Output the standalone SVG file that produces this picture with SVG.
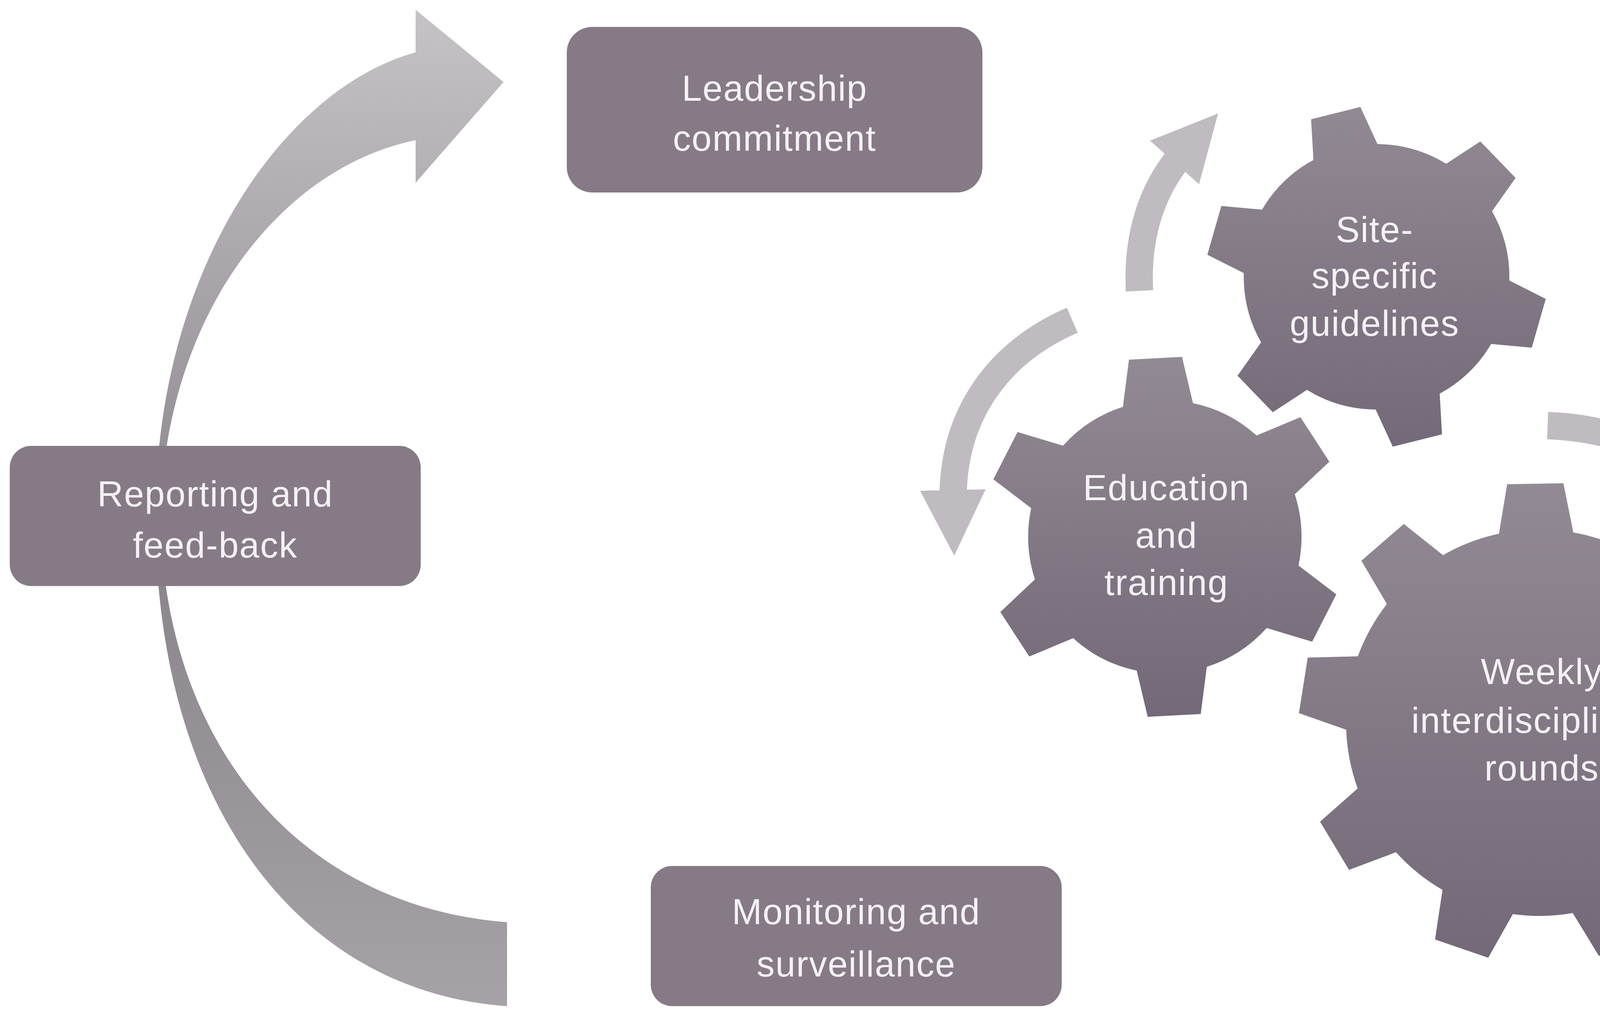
<svg xmlns="http://www.w3.org/2000/svg" xmlns:xlink="http://www.w3.org/1999/xlink" width="4870" height="2592" viewBox="0 0 4870 2592">
<style>
.box{fill:#857a85}
.t{font-family:"Liberation Sans",Arial,sans-serif;font-size:92px;fill:#f4f2f4;text-anchor:middle;letter-spacing:2px}
.sa{fill:none;stroke:#bfbbc0;stroke-width:70}
</style>
<defs>
<linearGradient id="big" x1="0" y1="0" x2="0" y2="1">
<stop offset="0" stop-color="#c6c3c7"/><stop offset="0.55" stop-color="#8a858b"/><stop offset="1" stop-color="#a6a2a7"/>
</linearGradient>
<linearGradient id="gg" x1="0" y1="0" x2="0" y2="1">
<stop offset="0" stop-color="#928a94"/><stop offset="1" stop-color="#736877"/>
</linearGradient>
<marker id="ah" markerWidth="2.4" markerHeight="2.4" refX="0.5" refY="1.2" orient="auto" markerUnits="strokeWidth">
<path d="M0,0 L2.4,1.2 L0,2.4 z" fill="#bfbbc0"/>
</marker>
<polygon id="toothS" points="-90,-300 -65,-432 65,-432 90,-300"/>
<polygon id="toothE" points="-95,-310 -68,-458 68,-458 95,-310"/>
<polygon id="toothW" points="-100,-460 -72,-612 72,-612 100,-460"/>
<clipPath id="cS"><circle cx="0" cy="0" r="340"/>
<use xlink:href="#toothS" transform="rotate(-14)"/><use xlink:href="#toothS" transform="rotate(46)"/><use xlink:href="#toothS" transform="rotate(106)"/><use xlink:href="#toothS" transform="rotate(166)"/><use xlink:href="#toothS" transform="rotate(226)"/><use xlink:href="#toothS" transform="rotate(286)"/>
</clipPath>
<clipPath id="cE"><circle cx="0" cy="0" r="350"/>
<use xlink:href="#toothE" transform="rotate(-3)"/><use xlink:href="#toothE" transform="rotate(57)"/><use xlink:href="#toothE" transform="rotate(117)"/><use xlink:href="#toothE" transform="rotate(177)"/><use xlink:href="#toothE" transform="rotate(237)"/><use xlink:href="#toothE" transform="rotate(297)"/>
</clipPath>
<clipPath id="cW"><circle cx="0" cy="0" r="495"/>
<use xlink:href="#toothW" transform="rotate(-1)"/><use xlink:href="#toothW" transform="rotate(39)"/><use xlink:href="#toothW" transform="rotate(79)"/><use xlink:href="#toothW" transform="rotate(119)"/><use xlink:href="#toothW" transform="rotate(159)"/><use xlink:href="#toothW" transform="rotate(199)"/><use xlink:href="#toothW" transform="rotate(239)"/><use xlink:href="#toothW" transform="rotate(279)"/><use xlink:href="#toothW" transform="rotate(319)"/>
</clipPath>
</defs>
<rect width="4870" height="2592" fill="#ffffff"/>
<g id="connectors">
<path d="M1298,2577 C760,2540 398,2050 398,1320 C400,700 720,230 1064,134 L1064,25 L1289,210 L1064,468 L1064,359 C720,430 425,800 410,1320 C420,1900 760,2320 1298,2362 Z" fill="url(#big)"/>
<path class="sa" d="M2917,745 C2910,600 2950,480 3030,390" marker-end="url(#ah)"/>
<path class="sa" d="M2745,820 C2560,900 2435,1060 2440,1290" marker-end="url(#ah)"/>
<path class="sa" d="M3962,1090 C4500,1110 4950,1700 4630,2280" marker-end="url(#ah)"/>
</g>
<g id="leadership">
<rect class="box" x="1451" y="69" width="1064" height="424" rx="65"/>
<text class="t" x="1983" y="258">Leadership</text><text class="t" x="1983" y="386">commitment</text>
</g>
<g id="reporting">
<rect class="box" x="25" y="1142" width="1052" height="359" rx="55"/>
<text class="t" x="551" y="1297">Reporting and</text><text class="t" x="551" y="1428">feed-back</text>
</g>
<g id="monitoring">
<rect class="box" x="1666" y="2218" width="1052" height="359" rx="55"/>
<text class="t" x="2192" y="2367">Monitoring and</text><text class="t" x="2192" y="2501">surveillance</text>
</g>
<g id="site">
<g transform="translate(3524,709)"><rect x="-460" y="-460" width="920" height="920" fill="url(#gg)" clip-path="url(#cS)"/></g>
<text class="t" x="3519" y="620">Site-</text><text class="t" x="3519" y="738">specific</text><text class="t" x="3519" y="860">guidelines</text>
</g>
<g id="education">
<g transform="translate(2982,1375)"><rect x="-470" y="-470" width="940" height="940" fill="url(#gg)" clip-path="url(#cE)"/></g>
<text class="t" x="2986" y="1281">Education</text><text class="t" x="2986" y="1403">and</text><text class="t" x="2986" y="1524">training</text>
</g>
<g id="weekly">
<g transform="translate(3941,1851)"><rect x="-620" y="-620" width="1240" height="1240" fill="url(#gg)" clip-path="url(#cW)"/></g>
<text class="t" x="3947" y="1752">Weekly</text><text class="t" x="3947" y="1877">interdisciplinary</text><text class="t" x="3947" y="1999">rounds</text>
</g>
</svg>
